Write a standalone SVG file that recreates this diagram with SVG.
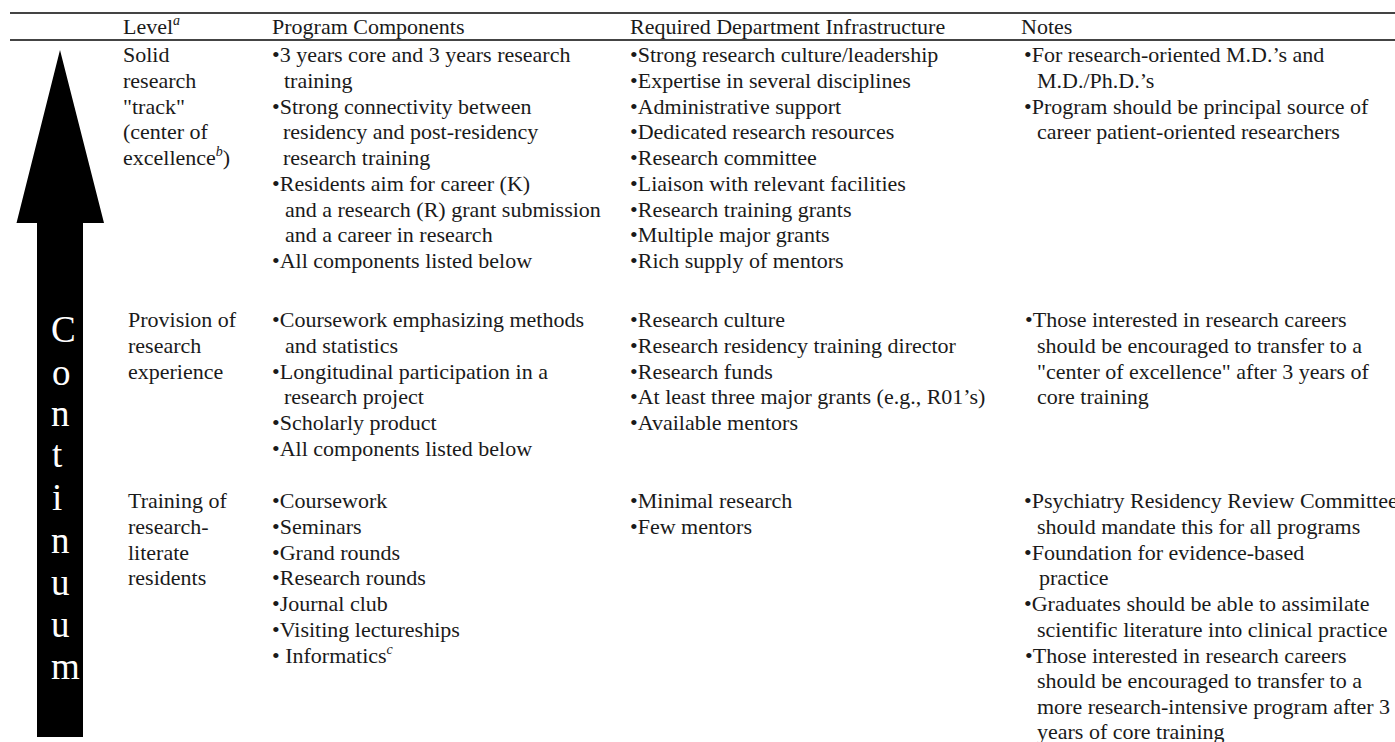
<svg xmlns="http://www.w3.org/2000/svg" width="1395" height="742" viewBox="0 0 1395 742">
<style>
  text { font-family: "Liberation Serif", "Times New Roman", serif; font-size: 22px; fill: #1a1a1a; }
  .sup { font-size: 14px; font-style: italic; }
  .cont { font-size: 37px; fill: #ffffff; }
  .rule { stroke: #444; stroke-width: 2; fill: none; }
</style>
<rect x="0" y="0" width="1395" height="742" fill="#ffffff"/>
<g id="rules">
  <line class="rule" x1="10" y1="13" x2="1395" y2="13"/>
  <line class="rule" x1="10" y1="40" x2="1395" y2="40"/>
</g>
<g id="continuum-arrow">
  <polygon points="60,50 104,223 83,223 83,737 37,737 37,223 16.5,223" fill="#000"/>
  <text class="cont" x="51" y="342">C</text>
  <text class="cont" x="52" y="385">o</text>
  <text class="cont" x="51" y="426">n</text>
  <text class="cont" x="52" y="467">t</text>
  <text class="cont" x="52" y="510">i</text>
  <text class="cont" x="51" y="553">n</text>
  <text class="cont" x="51" y="595">u</text>
  <text class="cont" x="51" y="637">u</text>
  <text class="cont" x="51" y="679">m</text>
</g>
<g id="header">
  <text x="123" y="34">Level<tspan class="sup" dy="-9">a</tspan></text>
  <text x="272" y="34">Program Components</text>
  <text x="630" y="34">Required Department Infrastructure</text>
  <text x="1021" y="34">Notes</text>
</g>
<g id="row-solid-research-track">
  <text x="123" y="62">Solid</text>
  <text x="123" y="87.75">research</text>
  <text x="123" y="113.5">"track"</text>
  <text x="123" y="139.25">(center of</text>
  <text x="123" y="165">excellence<tspan class="sup" dy="-9">b</tspan><tspan dy="9">)</tspan></text>

  <text x="272" y="62">•3 years core and 3 years research</text>
  <text x="284" y="87.75">training</text>
  <text x="272" y="113.5">•Strong connectivity between</text>
  <text x="283" y="139.25">residency and post-residency</text>
  <text x="283" y="165">research training</text>
  <text x="272" y="190.75">•Residents aim for career (K)</text>
  <text x="285" y="216.5">and a research (R) grant submission</text>
  <text x="285" y="242.25">and a career in research</text>
  <text x="272" y="268">•All components listed below</text>

  <text x="630" y="62">•Strong research culture/leadership</text>
  <text x="630" y="87.75">•Expertise in several disciplines</text>
  <text x="630" y="113.5">•Administrative support</text>
  <text x="630" y="139.25">•Dedicated research resources</text>
  <text x="630" y="165">•Research committee</text>
  <text x="630" y="190.75">•Liaison with relevant facilities</text>
  <text x="630" y="216.5">•Research training grants</text>
  <text x="630" y="242.25">•Multiple major grants</text>
  <text x="630" y="268">•Rich supply of mentors</text>

  <text x="1024" y="62">•For research-oriented M.D.’s and</text>
  <text x="1037" y="87.75">M.D./Ph.D.’s</text>
  <text x="1024" y="113.5">•Program should be principal source of</text>
  <text x="1037" y="139.25">career patient-oriented researchers</text>
</g>
<g id="row-provision-of-research-experience">
  <text x="128" y="327">Provision of</text>
  <text x="128" y="352.75">research</text>
  <text x="128" y="378.5">experience</text>

  <text x="272" y="327">•Coursework emphasizing methods</text>
  <text x="285" y="352.75">and statistics</text>
  <text x="272" y="378.5">•Longitudinal participation in a</text>
  <text x="284" y="404.25">research project</text>
  <text x="272" y="430">•Scholarly product</text>
  <text x="272" y="455.75">•All components listed below</text>

  <text x="630" y="327">•Research culture</text>
  <text x="630" y="352.75">•Research residency training director</text>
  <text x="630" y="378.5">•Research funds</text>
  <text x="630" y="404.25">•At least three major grants (e.g., R01’s)</text>
  <text x="630" y="430">•Available mentors</text>

  <text x="1025" y="327">•Those interested in research careers</text>
  <text x="1037" y="352.75">should be encouraged to transfer to a</text>
  <text x="1037" y="378.5">"center of excellence" after 3 years of</text>
  <text x="1037" y="404.25">core training</text>
</g>
<g id="row-training-of-research-literate-residents">
  <text x="128" y="508">Training of</text>
  <text x="128" y="533.75">research-</text>
  <text x="128" y="559.5">literate</text>
  <text x="128" y="585.25">residents</text>

  <text x="272" y="508">•Coursework</text>
  <text x="272" y="533.75">•Seminars</text>
  <text x="272" y="559.5">•Grand rounds</text>
  <text x="272" y="585.25">•Research rounds</text>
  <text x="272" y="611">•Journal club</text>
  <text x="272" y="636.75">•Visiting lectureships</text>
  <text x="272" y="662.5">• Informatics<tspan class="sup" dy="-9">c</tspan></text>

  <text x="630" y="508">•Minimal research</text>
  <text x="630" y="533.75">•Few mentors</text>

  <text x="1024" y="508">•Psychiatry Residency Review Committee</text>
  <text x="1037" y="533.75">should mandate this for all programs</text>
  <text x="1024" y="559.5">•Foundation for evidence-based</text>
  <text x="1039" y="585.25">practice</text>
  <text x="1024" y="611">•Graduates should be able to assimilate</text>
  <text x="1037" y="636.75">scientific literature into clinical practice</text>
  <text x="1025" y="662.5">•Those interested in research careers</text>
  <text x="1037" y="688.25">should be encouraged to transfer to a</text>
  <text x="1037" y="714">more research-intensive program after 3</text>
  <text x="1037" y="739">years of core training</text>
</g>
</svg>
